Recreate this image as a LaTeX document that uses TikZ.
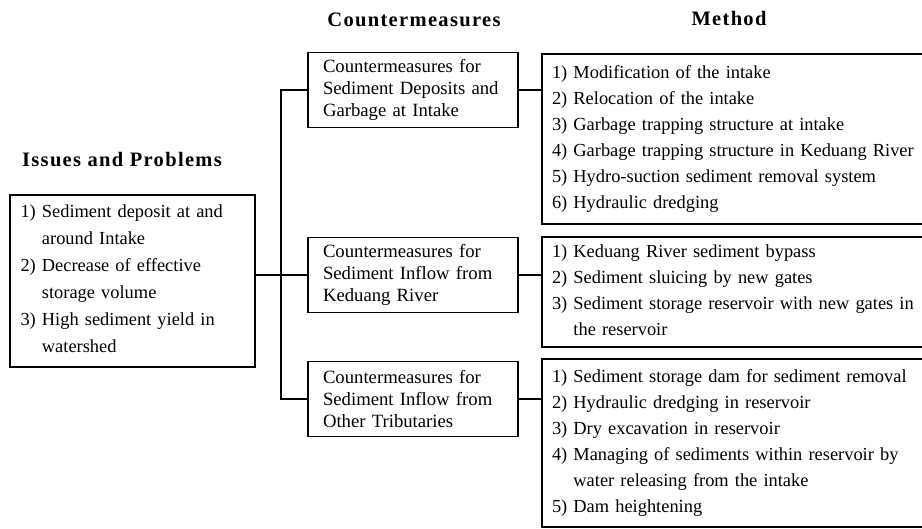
\documentclass[tikz,border=0pt]{standalone}
\usepackage{fontspec}
\setmainfont{Liberation Serif}

\newcommand{\cont}{\phantom{1) }}

\tikzset{
    box/.style={draw, line width=1.1pt, align=left, inner ysep=0pt},
    issuebox/.style={box, text width=224pt, inner xsep=10.5pt, minimum height=172pt,
        font=\fontsize{18.4}{27}\selectfont},
    cmbox/.style={box, text width=180pt, inner xsep=15pt, minimum height=75pt,
        font=\fontsize{18.7}{22}\selectfont},
    methodbox/.style={box, text width=368pt, inner xsep=10pt,
        font=\fontsize{18.4}{26}\selectfont},
    head/.style={font=\fontsize{20.5}{24}\selectfont\bfseries\addfontfeature{LetterSpace=6.5}},
    link/.style={line width=1.1pt},
}

\begin{document}
\begin{tikzpicture}[x=1pt,y=-1pt]
    \useasboundingbox (0,0) rectangle (922,529);

    % column headings
    \node[head] (hissue) at (122,160) {Issues and Problems};
    \node[head] (hcm) at (414,20) {Countermeasures};
    \node[head] (hmethod) at (729,18) {Method};

    \node[issuebox] (issue) at (132.5,281) {1) Sediment deposit at and\\\cont around Intake\\2) Decrease of effective\\\cont storage volume\\3) High sediment yield in\\\cont watershed};

    \node[cmbox] (cm1) at (413,90) {Countermeasures for\\Sediment Deposits and\\Garbage at Intake};
    \node[cmbox] (cm2) at (413,275) {Countermeasures for\\Sediment Inflow from\\Keduang River};
    \node[cmbox] (cm3) at (413,399) {Countermeasures for\\Sediment Inflow from\\Other Tributaries};

    % method boxes run past the right edge of the page
    \node[methodbox, minimum height=170pt] (m1) at (736,139) {1) Modification of the intake\\2) Relocation of the intake\\3) Garbage trapping structure at intake\\4) Garbage trapping structure in Keduang River\\5) Hydro-suction sediment removal system\\6) Hydraulic dredging};
    \node[methodbox, minimum height=110pt] (m2) at (736,292) {1) Keduang River sediment bypass\\2) Sediment sluicing by new gates\\3) Sediment storage reservoir with new gates in\\\cont the reservoir};
    \node[methodbox, minimum height=168pt] (m3) at (736,443) {1) Sediment storage dam for sediment removal\\2) Hydraulic dredging in reservoir\\3) Dry excavation in reservoir\\4) Managing of sediments within reservoir by\\\cont water releasing from the intake\\5) Dam heightening};

    % connectors
    \coordinate (bus) at (281,275);
    \draw[link] (issue.east |- cm2.west) -- (cm2.west);
    \draw[link] (cm1.west) -| (bus) |- (cm3.west);
    \foreach \i in {1,2,3}
        \draw[link] (cm\i.east) -- (cm\i.east -| m\i.west);
\end{tikzpicture}
\end{document}
